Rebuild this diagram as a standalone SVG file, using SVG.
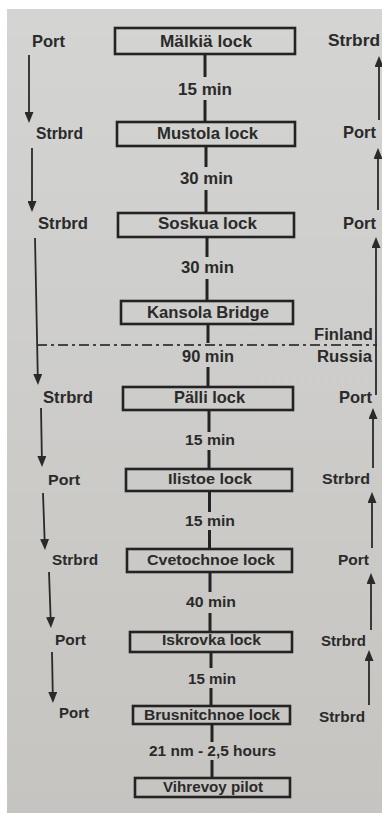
<svg xmlns="http://www.w3.org/2000/svg" width="382" height="814" viewBox="0 0 382 814">
<style>
text{font-family:"Liberation Sans",Arial,sans-serif;font-weight:bold;fill:#2a2a2a}
.box{fill:none;stroke:#232323;stroke-width:2.6}
.seg{stroke:#232323;stroke-width:3}
.arr{stroke:#2a2a2a;stroke-width:1.8;fill:none;marker-end:url(#ah)}
.border{stroke:#444;stroke-width:2;stroke-dasharray:10 4 3 4;fill:none}
</style>
<defs>
<linearGradient id="bg" x1="0" y1="0" x2="0" y2="1">
<stop offset="0" stop-color="#d4d4d2"/>
<stop offset="1" stop-color="#c5c4c1"/>
</linearGradient>
<marker id="ah" viewBox="0 0 11 9" refX="3" refY="4.5" markerWidth="11" markerHeight="9" markerUnits="userSpaceOnUse" orient="auto">
<path d="M0,0 L11,4.5 L0,9 z" fill="#2a2a2a"/>
</marker>
</defs>
<rect width="382" height="814" fill="#ffffff"/>
<rect x="7" y="9" width="375" height="804" fill="url(#bg)"/>

<g id="connectors">
<line class="seg" x1="205" y1="54" x2="205" y2="77"/>
<line class="seg" x1="205" y1="100" x2="205" y2="122"/>
<line class="seg" x1="206" y1="146" x2="206" y2="167"/>
<line class="seg" x1="206" y1="190" x2="206" y2="213"/>
<line class="seg" x1="207" y1="237" x2="207" y2="257"/>
<line class="seg" x1="207" y1="279" x2="207" y2="301"/>
<line class="seg" x1="208" y1="324" x2="208" y2="343"/>
<line class="seg" x1="208" y1="367" x2="208" y2="387"/>
<line class="seg" x1="209" y1="410" x2="209" y2="432"/>
<line class="seg" x1="209" y1="450" x2="209" y2="469"/>
<line class="seg" x1="209.5" y1="491" x2="209.5" y2="512"/>
<line class="seg" x1="209.5" y1="530" x2="209.5" y2="549"/>
<line class="seg" x1="210" y1="572" x2="210" y2="592"/>
<line class="seg" x1="210" y1="613" x2="210" y2="632"/>
<line class="seg" x1="211" y1="652" x2="211" y2="668"/>
<line class="seg" x1="211" y1="688" x2="211" y2="706"/>
<line class="seg" x1="212" y1="724" x2="212" y2="742"/>
<line class="seg" x1="212" y1="760" x2="212" y2="778"/>
<text x="178" y="95" font-size="16.8" textLength="54" lengthAdjust="spacingAndGlyphs">15 min</text>
<text x="180" y="184" font-size="16.5" textLength="53" lengthAdjust="spacingAndGlyphs">30 min</text>
<text x="181" y="273" font-size="16.2" textLength="53" lengthAdjust="spacingAndGlyphs">30 min</text>
<text x="182" y="362" font-size="15.8" textLength="52" lengthAdjust="spacingAndGlyphs">90 min</text>
<text x="185" y="445" font-size="15.5" textLength="50" lengthAdjust="spacingAndGlyphs">15 min</text>
<text x="185" y="526" font-size="15.2" textLength="50" lengthAdjust="spacingAndGlyphs">15 min</text>
<text x="186" y="607" font-size="14.9" textLength="50" lengthAdjust="spacingAndGlyphs">40 min</text>
<text x="188" y="684" font-size="14.6" textLength="48" lengthAdjust="spacingAndGlyphs">15 min</text>
<text x="149" y="756" font-size="14.4" textLength="127" lengthAdjust="spacingAndGlyphs">21 nm - 2,5 hours</text>
</g>

<g id="border">
<line class="border" x1="37" y1="345" x2="377" y2="345"/>
<text x="314" y="340" font-size="15.8" textLength="59" lengthAdjust="spacingAndGlyphs">Finland</text>
<text x="317" y="362" font-size="15.8" textLength="55" lengthAdjust="spacingAndGlyphs">Russia</text>
</g>

<g id="downstream">
<text x="32" y="47" font-size="17" textLength="33" lengthAdjust="spacingAndGlyphs">Port</text>
<line class="arr" x1="29" y1="55" x2="29" y2="115"/>
<text x="36" y="139" font-size="16.6" textLength="47" lengthAdjust="spacingAndGlyphs">Strbrd</text>
<line class="arr" x1="32" y1="148" x2="32" y2="204"/>
<text x="38" y="229" font-size="16.3" textLength="50" lengthAdjust="spacingAndGlyphs">Strbrd</text>
<line class="arr" x1="35" y1="238" x2="37.8" y2="377"/>
<text x="43" y="403" font-size="15.7" textLength="50" lengthAdjust="spacingAndGlyphs">Strbrd</text>
<line class="arr" x1="41" y1="408" x2="41.9" y2="459"/>
<text x="48" y="485" font-size="15.4" textLength="32" lengthAdjust="spacingAndGlyphs">Port</text>
<line class="arr" x1="43" y1="493" x2="44.7" y2="542"/>
<text x="52" y="565" font-size="15.1" textLength="46" lengthAdjust="spacingAndGlyphs">Strbrd</text>
<line class="arr" x1="49" y1="572" x2="50.7" y2="620"/>
<text x="55" y="645" font-size="14.8" textLength="31" lengthAdjust="spacingAndGlyphs">Port</text>
<line class="arr" x1="52" y1="652" x2="52.8" y2="695"/>
<text x="59" y="718" font-size="14.5" textLength="30" lengthAdjust="spacingAndGlyphs">Port</text>
</g>

<g id="upstream">
<text x="328" y="46" font-size="17" textLength="52" lengthAdjust="spacingAndGlyphs">Strbrd</text>
<line class="arr" x1="379" y1="120" x2="379" y2="64"/>
<text x="343" y="138" font-size="16.6" textLength="33" lengthAdjust="spacingAndGlyphs">Port</text>
<line class="arr" x1="378" y1="210" x2="378" y2="156"/>
<text x="343" y="229" font-size="16.3" textLength="33" lengthAdjust="spacingAndGlyphs">Port</text>
<line class="arr" x1="376" y1="395" x2="376" y2="245"/>
<text x="339" y="403" font-size="15.7" textLength="33" lengthAdjust="spacingAndGlyphs">Port</text>
<line class="arr" x1="373" y1="468" x2="373" y2="416"/>
<text x="322" y="484" font-size="15.4" textLength="48" lengthAdjust="spacingAndGlyphs">Strbrd</text>
<line class="arr" x1="372" y1="548" x2="372" y2="500"/>
<text x="338" y="565" font-size="15.1" textLength="31" lengthAdjust="spacingAndGlyphs">Port</text>
<line class="arr" x1="371" y1="630" x2="371" y2="581"/>
<text x="321" y="646" font-size="14.8" textLength="45" lengthAdjust="spacingAndGlyphs">Strbrd</text>
<line class="arr" x1="369" y1="705" x2="369" y2="658"/>
<text x="319" y="722" font-size="14.5" textLength="46" lengthAdjust="spacingAndGlyphs">Strbrd</text>
</g>

<g id="malkia">
<rect class="box" x="115" y="28" width="180" height="26"/>
<text x="160" y="47" font-size="17" textLength="92" lengthAdjust="spacingAndGlyphs">Mälkiä lock</text>
</g>
<g id="mustola">
<rect class="box" x="117" y="122" width="178" height="24"/>
<text x="157" y="139" font-size="16.6" textLength="101" lengthAdjust="spacingAndGlyphs">Mustola lock</text>
</g>
<g id="soskua">
<rect class="box" x="118" y="213" width="176" height="24"/>
<text x="158" y="229" font-size="16.3" textLength="99" lengthAdjust="spacingAndGlyphs">Soskua lock</text>
</g>
<g id="kansola">
<rect class="box" x="121" y="301" width="172" height="23"/>
<text x="147" y="318" font-size="16" textLength="122" lengthAdjust="spacingAndGlyphs">Kansola Bridge</text>
</g>
<g id="palli">
<rect class="box" x="123" y="387" width="170" height="23"/>
<text x="174" y="403" font-size="15.7" textLength="71" lengthAdjust="spacingAndGlyphs">Pälli lock</text>
</g>
<g id="ilistoe">
<rect class="box" x="126" y="469" width="166" height="22"/>
<text x="168" y="484" font-size="15.4" textLength="84" lengthAdjust="spacingAndGlyphs">Ilistoe lock</text>
</g>
<g id="cvetochnoe">
<rect class="box" x="127" y="549" width="165" height="23"/>
<text x="147" y="565" font-size="15.1" textLength="128" lengthAdjust="spacingAndGlyphs">Cvetochnoe lock</text>
</g>
<g id="iskrovka">
<rect class="box" x="130" y="632" width="162" height="20"/>
<text x="162" y="645" font-size="14.8" textLength="99" lengthAdjust="spacingAndGlyphs">Iskrovka lock</text>
</g>
<g id="brusnitchnoe">
<rect class="box" x="133" y="706" width="157" height="18"/>
<text x="144" y="720" font-size="14.5" textLength="136" lengthAdjust="spacingAndGlyphs">Brusnitchnoe lock</text>
</g>
<g id="vihrevoy">
<rect class="box" x="135" y="778" width="155" height="19"/>
<text x="163" y="792" font-size="14.2" textLength="100" lengthAdjust="spacingAndGlyphs">Vihrevoy pilot</text>
</g>
</svg>
